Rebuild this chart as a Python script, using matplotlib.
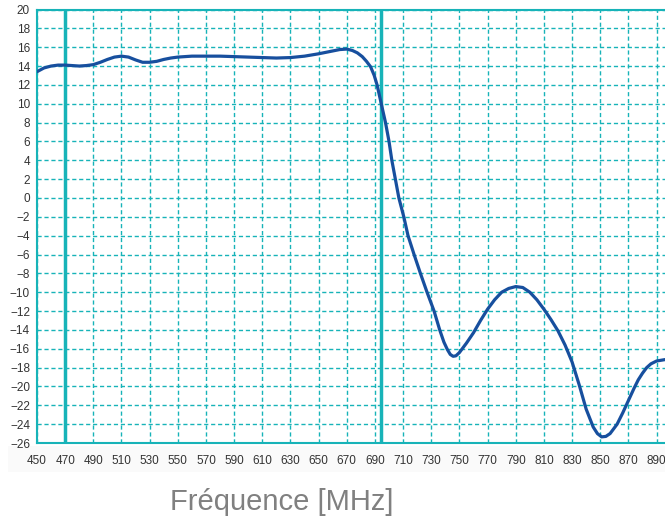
import matplotlib
matplotlib.use("Agg")
import matplotlib.pyplot as plt
from matplotlib.patches import Rectangle

freq = [450, 455, 460, 465, 470, 475, 480, 485, 490, 495, 500, 505, 510, 515, 520,
        525, 530, 535, 540, 545, 550, 560, 570, 580, 590, 600, 610, 620, 630, 640,
        650, 655, 660, 665, 670, 674, 677.5, 681, 684, 687, 689.5, 691.5, 694.5,
        697.5, 700, 702, 704.5, 707, 710.5, 713.5, 717.8, 722.3, 727, 732, 736,
        739, 741.5, 743.5, 745.5, 747.5, 750, 755, 760, 765, 770, 775, 780, 785,
        790, 795, 800, 805, 810, 815, 820, 825, 830, 835, 840, 845, 848, 851, 854,
        857, 862, 866, 870, 874, 877, 880, 883, 886, 890, 896]
gain = [13.4, 13.8, 14.0, 14.1, 14.1, 14.05, 14.0, 14.05, 14.15, 14.4, 14.7, 14.95,
        15.05, 14.95, 14.65, 14.4, 14.4, 14.5, 14.7, 14.85, 14.95, 15.05, 15.05,
        15.05, 15.0, 14.95, 14.9, 14.85, 14.9, 15.05, 15.3, 15.45, 15.6, 15.75,
        15.8, 15.65, 15.4, 15.0, 14.5, 13.9, 13.0, 12.0, 10.0, 8.0, 6.0, 4.0, 2.0,
        0.0, -2.0, -4.0, -6.0, -8.0, -10.0, -12.0, -14.0, -15.3, -16.1, -16.6,
        -16.8, -16.75, -16.4, -15.4, -14.3, -13.0, -11.8, -10.8, -10.0, -9.6,
        -9.4, -9.5, -10.0, -10.8, -11.8, -12.9, -14.1, -15.6, -17.4, -19.8,
        -22.4, -24.3, -25.0, -25.35, -25.3, -25.0, -24.0, -22.8, -21.5, -20.2,
        -19.3, -18.6, -18.0, -17.6, -17.3, -17.15]

band_edges = [470, 694]
x_ticks = list(range(450, 891, 20))
y_ticks = list(range(-26, 21, 2))
xlabel = "Fréquence [MHz]"

teal = "#17b3b8"
blue = "#174f9e"

plt.rcParams['font.family'] = ['Liberation Sans', 'DejaVu Sans']
fig = plt.figure(figsize=(6.65, 5.24), dpi=100)
bg = Rectangle((8 / 665, 1 - 472 / 524), 657 / 665, 26 / 524,
               transform=fig.transFigure, facecolor="#fafafa",
               edgecolor="none", zorder=-10)
fig.add_artist(bg)
ax = fig.add_axes([37 / 665, 1 - 443 / 524, 628 / 665, 433.5 / 524])
ax.set_zorder(1)
ax.set_facecolor("white")
ax.set_xlim(450, 896)
ax.set_ylim(-26, 20)
ax.set_xticks(x_ticks)
ax.set_yticks(y_ticks)
ax.grid(True, color=teal, linestyle=(0, (3, 2)), linewidth=1.0)
ax.set_axisbelow(True)
for s in ["left", "bottom", "top"]:
    ax.spines[s].set_color(teal)
    ax.spines[s].set_linewidth(1.5)
ax.spines["right"].set_visible(False)
ax.tick_params(axis="both", length=0, labelsize=8.5, labelcolor="#333333")
ax.tick_params(axis="x", pad=9)
ax.tick_params(axis="y", pad=5)

for b in band_edges:
    ax.axvline(b, color=teal, linewidth=2.5, zorder=2)

ax.plot(freq, gain, color=blue, linewidth=2.3, zorder=3, solid_capstyle="round",
        solid_joinstyle="round")

fig.text(282 / 665, 1 - 502 / 524, xlabel, ha="center", va="center",
         fontsize=21, color="#808080")

fig.savefig("out.png", dpi=100)
